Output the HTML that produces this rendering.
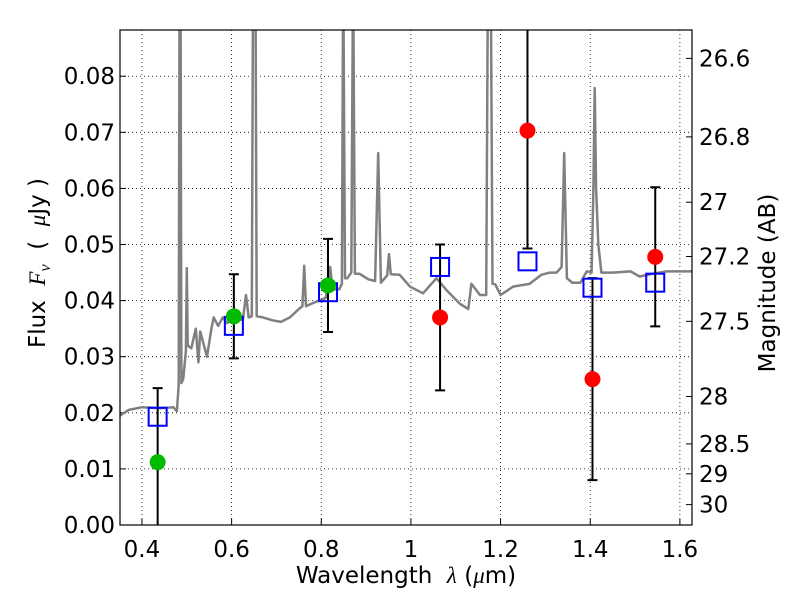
<!DOCTYPE html>
<html><head><meta charset="utf-8"><style>
body{margin:0;background:#fff;}
svg{display:block;font-family:"DejaVu Sans","Liberation Sans",sans-serif;}
</style></head><body>
<svg id="chart" width="800" height="600"></svg>
<script>
const specWave=[0.351,0.37,0.40,0.44,0.47,0.478,0.482,0.484,0.486,0.488,0.492,0.498,0.500,0.502,0.51,0.52,0.526,0.53,0.535,0.545,0.555,0.56,0.57,0.58,0.59,0.61,0.625,0.632,0.638,0.645,0.648,0.650,0.653,0.656,0.67,0.69,0.71,0.73,0.75,0.758,0.762,0.766,0.78,0.81,0.82,0.825,0.84,0.846,0.849,0.853,0.858,0.867,0.871,0.875,0.885,0.905,0.92,0.927,0.933,0.947,0.951,0.955,0.975,0.998,1.027,1.057,1.08,1.11,1.128,1.135,1.154,1.168,1.172,1.175,1.178,1.182,1.188,1.2,1.228,1.265,1.291,1.31,1.325,1.336,1.342,1.348,1.36,1.378,1.392,1.403,1.407,1.41,1.413,1.418,1.425,1.45,1.49,1.51,1.54,1.57,1.627];
const specFlux=[0.0195,0.0205,0.021,0.0208,0.021,0.0203,0.025,0.1,0.1,0.0253,0.026,0.031,0.0458,0.032,0.0315,0.035,0.029,0.0345,0.033,0.03,0.035,0.037,0.0355,0.037,0.036,0.037,0.0365,0.041,0.037,0.0372,0.1,0.1,0.1,0.0372,0.037,0.0365,0.0362,0.037,0.0385,0.039,0.0462,0.039,0.0395,0.0405,0.046,0.042,0.042,0.043,0.1,0.044,0.044,0.045,0.1,0.0448,0.0448,0.0438,0.0435,0.0663,0.0432,0.0445,0.0483,0.0447,0.0446,0.0425,0.0413,0.044,0.0418,0.0394,0.0385,0.043,0.041,0.041,0.1,0.1,0.1,0.043,0.0429,0.041,0.0425,0.043,0.0446,0.045,0.045,0.046,0.0663,0.044,0.0432,0.0432,0.0452,0.045,0.06,0.0779,0.06,0.05,0.045,0.045,0.0452,0.0443,0.0448,0.0452,0.0452];
const photWave=[0.435,0.605,0.815,1.065,1.26,1.405,1.545];
const photFlux=[0.0112,0.0372,0.0427,0.037,0.0703,0.026,0.0478];
const photErr=[0.0132,0.0075,0.0083,0.013,0.021,0.018,0.0124];
const photColor=["#00bb00","#00bb00","#00bb00","red","red","red","red"];
const modelFlux=[0.0193,0.0355,0.0415,0.046,0.047,0.0423,0.0432];
const xTicks=[0.4,0.6,0.8,1.0,1.2,1.4,1.6];
const xTickLabels=["0.4","0.6","0.8","1","1.2","1.4","1.6"];
const yTicks=[0,0.01,0.02,0.03,0.04,0.05,0.06,0.07,0.08];
const yTickLabels=["0.00","0.01","0.02","0.03","0.04","0.05","0.06","0.07","0.08"];
const magTicks=[26.6,26.8,27,27.2,27.5,28,28.5,29,30];
const magTickLabels=["26.6","26.8","27","27.2","27.5","28","28.5","29","30"];

const L=120,R=692,T=30,B=525;
const xMin=0.351,xMax=1.627,yMin=0,yMax=0.08824;
const X=v=>L+(v-xMin)/(xMax-xMin)*(R-L);
const Y=v=>B-(v-yMin)/(yMax-yMin)*(B-T);
const NS="http://www.w3.org/2000/svg";
const svg=document.getElementById('chart');
function mk(tag,attrs,parent){const e=document.createElementNS(NS,tag);for(const k in attrs)e.setAttribute(k,attrs[k]);(parent||svg).appendChild(e);return e;}

const defs=mk('defs',{});const cp=mk('clipPath',{id:'clip'},defs);mk('rect',{x:L,y:T,width:R-L,height:B-T},cp);

xTicks.forEach((t,i)=>{
  const g=mk('line',{x1:X(t),x2:X(t),y1:T,y2:B,stroke:'#000','stroke-width':0.8,'stroke-dasharray':'1,3'});
  
  const tk=mk('line',{x1:X(t),x2:X(t),y1:B,y2:B-6,stroke:'#000'});
  
  const tx=mk('text',{x:X(t),y:B+32,'text-anchor':'middle','font-size':23});tx.textContent=xTickLabels[i];
  
});
yTicks.forEach((t,i)=>{
  if(i>0){const g=mk('line',{x1:L,x2:R,y1:Y(t),y2:Y(t),stroke:'#000','stroke-width':0.8,'stroke-dasharray':'1,3'});
  }
  const tk=mk('line',{x1:L,x2:L+6,y1:Y(t),y2:Y(t),stroke:'#000'});
  
  const tx=mk('text',{x:L-5,y:Y(t)+8,'text-anchor':'end','font-size':23});tx.textContent=yTickLabels[i];
  
});
magTicks.forEach((m,i)=>{
  const f=Math.pow(10,(23.9-m)/2.5);const y=Y(f);
  const tk=mk('line',{x1:R,x2:R-6,y1:y,y2:y,stroke:'#000'});
  
  const tx=mk('text',{x:R+7,y:y+8,'font-size':23});tx.textContent=magTickLabels[i];
  
});

const gp=mk('g',{'clip-path':'url(#clip)'});
const pts=specWave.map((w,i)=>X(w).toFixed(1)+','+Y(specFlux[i]).toFixed(1)).join(' ');
const sp=mk('polyline',{points:pts,fill:'none',stroke:'#808080','stroke-width':2.5,'stroke-linejoin':'round'},gp);


photWave.forEach((w,i)=>{
  const x=X(w),y1=Y(photFlux[i]-photErr[i]),y2=Y(photFlux[i]+photErr[i]);
  const eb=mk('path',{d:`M${x},${y1}V${y2}M${x-5},${y1}H${x+5}M${x-5},${y2}H${x+5}`,stroke:'#000','stroke-width':2,fill:'none'},gp);
  
});
photWave.forEach((w,i)=>{
  const sq=mk('rect',{x:X(w)-9,y:Y(modelFlux[i])-9,width:18,height:18,fill:'none',stroke:'#0000ff','stroke-width':2},gp);
  
});
photWave.forEach((w,i)=>{
  const c=mk('circle',{cx:X(w),cy:Y(photFlux[i]),r:8,fill:photColor[i]},gp);
  
});

const fr=mk('rect',{x:L,y:T,width:R-L,height:B-T,fill:'none',stroke:'#000','stroke-width':1.2});


const xl=mk('text',{x:406,y:583,'text-anchor':'middle','font-size':23});
xl.innerHTML='Wavelength\u00a0\u00a0<tspan font-style="italic" font-family="Liberation Serif,serif">λ</tspan>\u00a0(<tspan font-style="italic" font-family="Liberation Serif,serif">μ</tspan>m)';

const yl=mk('text',{x:0,y:0,'text-anchor':'middle','font-size':23,transform:'translate(45,263) rotate(-90)'});
yl.innerHTML='Flux\u00a0\u00a0<tspan font-style="italic" font-family="Liberation Serif,serif">F</tspan><tspan font-style="italic" font-size="16" dy="5" font-family="Liberation Serif,serif">ν</tspan><tspan dy="-5">\u00a0\u00a0(\u00a0\u00a0</tspan><tspan font-style="italic" font-family="Liberation Serif,serif">μ</tspan>Jy\u00a0)';

const ml=mk('text',{x:0,y:0,'text-anchor':'middle','font-size':23,transform:'translate(775,283) rotate(-90)'});
ml.textContent='Magnitude (AB)';

</script>
</body></html>
